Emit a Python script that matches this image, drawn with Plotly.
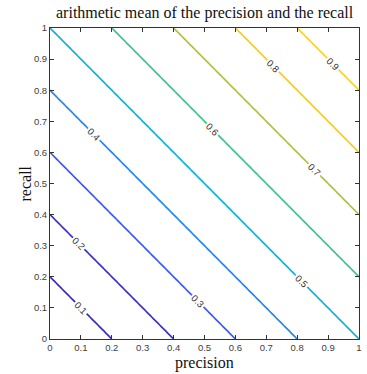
import numpy as np
import plotly.graph_objects as go

# data
precision = np.linspace(0, 1, 101)
recall = np.linspace(0, 1, 101)
levels = [0.1, 0.2, 0.3, 0.4, 0.5, 0.6, 0.7, 0.8, 0.9]
level_colors = ["#3a2db0", "#4648dc", "#3d6cf0", "#228fe6", "#10b2d6",
                "#2fbfa4", "#80c84f", "#e2b83e", "#f8d22a"]
tick_vals = [0, 0.1, 0.2, 0.3, 0.4, 0.5, 0.6, 0.7, 0.8, 0.9, 1]
tick_text = ["0", "0.1", "0.2", "0.3", "0.4", "0.5", "0.6", "0.7", "0.8", "0.9", "1"]

P, R = np.meshgrid(precision, recall)
Z = (P + R) / 2

cs = [[0, level_colors[0]]]
for lv, c in zip(levels, level_colors):
    cs.append([lv, c])
cs.append([1, level_colors[-1]])

fig = go.Figure(go.Contour(
    x=precision, y=recall, z=Z,
    zmin=0, zmax=1, zauto=False,
    colorscale=cs, showscale=False,
    contours=dict(coloring="lines", start=levels[0], end=levels[-1], size=0.1,
                  showlabels=True,
                  labelfont=dict(family="Liberation Sans, Arial", size=9.5, color="#333333")),
    line=dict(width=1.7),
    hoverinfo="skip",
))

axis_common = dict(
    range=[0, 1], tickmode="array", tickvals=tick_vals, ticktext=tick_text,
    ticks="inside", ticklen=4, tickwidth=1, tickcolor="#333333",
    showline=True, linecolor="#333333", linewidth=1, mirror="ticks",
    showgrid=False, zeroline=False,
    tickfont=dict(family="Liberation Sans, Arial", size=9.5, color="#404040"),
)

fig.update_layout(
    width=367, height=374,
    margin=dict(l=50, r=5, t=28, b=35),
    paper_bgcolor="white", plot_bgcolor="white",
    xaxis=dict(**axis_common),
    yaxis=dict(**axis_common),
    showlegend=False,
    annotations=[
        dict(text="arithmetic mean of the precision and the recall",
             xref="paper", yref="paper", x=0.5, y=1, yshift=15,
             xanchor="center", yanchor="middle", showarrow=False,
             font=dict(family="Liberation Serif, serif", size=16, color="#111111")),
        dict(text="precision", xref="paper", yref="paper", x=0.5, y=0, yshift=-24,
             xanchor="center", yanchor="middle", showarrow=False,
             font=dict(family="Liberation Serif, serif", size=16, color="#111111")),
        dict(text="recall", xref="paper", yref="paper", x=0, xshift=-25, y=0.5,
             textangle=-90, xanchor="center", yanchor="middle", showarrow=False,
             font=dict(family="Liberation Serif, serif", size=16, color="#111111")),
    ],
)

fig.write_html("out.html",
               config={"displayModeBar": False},
               post_script="document.body.style.margin='0';document.body.style.overflow='hidden';")
